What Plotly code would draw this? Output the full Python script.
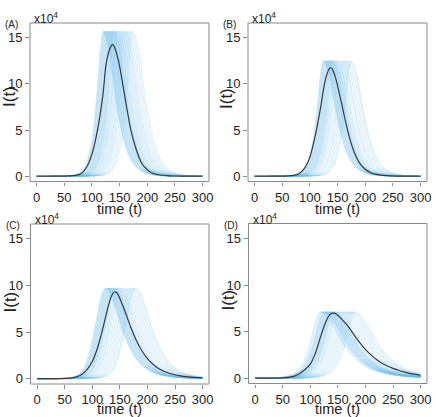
import plotly.graph_objects as go

W, H = 436, 417

# ---- data (I(t) in units of 1e4) ----
# peak days of the light blue sample runs
peaks_a = [120, 121, 122, 123, 124, 125, 126, 127, 128, 129, 130, 131, 132, 133, 134, 135, 136, 137, 138,
           139, 140, 141, 142, 144, 145, 147, 148, 150, 152, 154, 156, 158, 160, 162, 165, 168, 171, 174]
peaks_b = [124, 125, 126, 127, 128, 129, 130, 131, 132, 133, 134, 135, 136, 137, 138, 139, 140, 141, 142,
           143, 145, 146, 148, 150, 152, 155, 158, 160, 163, 166, 169, 172, 174]
peaks_c = [123, 124, 125, 126, 127, 128, 129, 130, 131, 132, 133, 134, 135, 136, 137, 138, 139, 140, 141,
           142, 144, 146, 148, 150, 152, 155, 158, 161, 164, 167, 170, 173, 176, 178]
peaks_d = [116, 118, 120, 122, 123, 124, 125, 126, 127, 128, 129, 130, 131, 132, 133, 134, 135, 136, 137,
           138, 139, 140, 141, 142, 144, 146, 148, 150, 153, 156, 159, 162, 165, 168, 171, 174, 177, 180]

# peak height of the sample runs
top_a, top_b, top_c, top_d = 15.7, 12.5, 9.7, 7.1

# shape of one sample run: days from its peak -> fraction of peak height
offsets = [-90, -80, -70, -60, -50, -40, -30, -20, -10, -5, 0, 5, 10, 20, 30, 40, 50, 60, 70, 80, 90, 100,
           120, 140, 160, 180, 200]
frac_a = [0, 0.001, 0.002, 0.004, 0.01, 0.03, 0.09, 0.25, 0.62, 0.87, 1.0, 0.96, 0.88, 0.6, 0.37, 0.21, 0.115,
          0.062, 0.034, 0.018, 0.01, 0.005, 0.0015, 0.0005, 0, 0, 0]
frac_b = [0, 0.001, 0.002, 0.005, 0.012, 0.035, 0.1, 0.27, 0.64, 0.88, 1.0, 0.965, 0.89, 0.63, 0.4, 0.23, 0.13,
          0.072, 0.04, 0.022, 0.012, 0.007, 0.002, 0.0006, 0, 0, 0]
frac_c = [0.002, 0.004, 0.008, 0.015, 0.04, 0.1, 0.25, 0.52, 0.83, 0.95, 1.0, 0.98, 0.93, 0.76, 0.56, 0.4, 0.28,
          0.19, 0.13, 0.09, 0.06, 0.042, 0.02, 0.01, 0.005, 0.0025, 0.001]
frac_d = [0.002, 0.007, 0.014, 0.028, 0.055, 0.11, 0.22, 0.43, 0.75, 0.9, 1.0, 0.99, 0.96, 0.86, 0.72, 0.57, 0.44,
          0.34, 0.26, 0.2, 0.15, 0.115, 0.068, 0.04, 0.024, 0.014, 0.008]

# black mean curves
t_ab = [0, 20, 40, 60, 70, 80, 90, 100, 110, 120, 125, 130, 135, 137, 140, 145, 150, 160, 170, 180, 190, 200,
        210, 220, 240, 260, 280, 300]
mean_a = [0, 0, 0.01, 0.03, 0.09, 0.27, 0.95, 2.4, 5.0, 8.9, 11.9, 13.4, 14.15, 14.25, 14.1, 13.2, 11.9, 8.45,
          5.1, 2.9, 1.4, 0.7, 0.32, 0.16, 0.05, 0.02, 0.01, 0]
mean_b = [0, 0, 0.01, 0.04, 0.1, 0.28, 0.85, 2.1, 4.5, 7.7, 9.6, 10.9, 11.65, 11.75, 11.65, 10.9, 9.8, 7.1,
          4.5, 2.6, 1.4, 0.75, 0.38, 0.2, 0.06, 0.02, 0.01, 0]
t_cd = [0, 20, 40, 50, 60, 70, 80, 90, 100, 110, 120, 130, 135, 140, 145, 150, 160, 170, 180, 190, 200, 210,
        220, 230, 240, 250, 260, 270, 280, 290, 300]
mean_c = [0, 0, 0.01, 0.02, 0.06, 0.17, 0.42, 0.95, 1.85, 3.4, 5.6, 8.0, 8.9, 9.3, 9.2, 8.6, 7.1, 5.5, 4.1,
          3.0, 2.15, 1.55, 1.1, 0.8, 0.58, 0.42, 0.31, 0.23, 0.17, 0.12, 0.09]
mean_d = [0, 0, 0.01, 0.03, 0.08, 0.2, 0.48, 0.9, 1.5, 2.8, 4.7, 6.3, 6.8, 6.98, 6.95, 6.75, 6.15, 5.45, 4.6,
          3.8, 3.1, 2.5, 2.0, 1.6, 1.3, 1.05, 0.85, 0.67, 0.52, 0.4, 0.3]

x_ticks = [0, 50, 100, 150, 200, 250, 300]
y_ticks = [0, 5, 10, 15]

# ---- layout in pixels: frame box (left, right, top, bottom); axis domain covers t=-12..300 ----
panels = [
    dict(lab='(A)', peaks=peaks_a, top=top_a, frac=frac_a, t=t_ab, mean=mean_a,
         frame=(30, 209, 23, 181.5), ylab=97, xlab=208.5),
    dict(lab='(B)', peaks=peaks_b, top=top_b, frac=frac_b, t=t_ab, mean=mean_b,
         frame=(248, 427, 23, 181.5), ylab=99, xlab=208.5),
    dict(lab='(C)', peaks=peaks_c, top=top_c, frac=frac_c, t=t_cd, mean=mean_c,
         frame=(30.5, 209, 224, 384), ylab=302, xlab=409),
    dict(lab='(D)', peaks=peaks_d, top=top_d, frac=frac_d, t=t_cd, mean=mean_d,
         frame=(248.5, 427, 223.5, 383.5), ylab=300, xlab=409),
]

BLUE = 'rgba(115,192,238,0.32)'
DARK = '#3a3a3a'
GRAY = '#8a8a8a'
TXT = '#222222'
FONT = 'Liberation Sans, Arial, sans-serif'

fig = go.Figure()
shapes = []
annotations = []

for i, p in enumerate(panels):
    n = '' if i == 0 else str(i + 1)
    xa, ya = 'x' + n, 'y' + n
    left, right, top, bottom = p['frame']
    x300 = right - 6.4  # t = 300 sits a few px inside the right frame edge

    for pk in p['peaks']:
        xs = [0] + [pk + o for o in offsets]
        ys = [0] + [p['top'] * f for f in p['frac']]
        fig.add_trace(go.Scatter(x=xs, y=ys, mode='lines', xaxis=xa, yaxis=ya,
                                 line=dict(color=BLUE, width=0.8, shape='spline', smoothing=0.8),
                                 hoverinfo='skip', showlegend=False))
    fig.add_trace(go.Scatter(x=p['t'], y=p['mean'], mode='lines', xaxis=xa, yaxis=ya,
                             line=dict(color=DARK, width=1.2, shape='spline', smoothing=0.8),
                             showlegend=False))

    fig.update_layout({
        'xaxis' + n: dict(domain=[left / W, x300 / W], range=[-12, 300], anchor=ya,
                          tickvals=x_ticks, ticks='outside', ticklen=3.5, tickcolor=GRAY,
                          ticklabelstandoff=0,
                          tickfont=dict(size=13, color=TXT, family=FONT),
                          showgrid=False, zeroline=False, showline=False, automargin=False),
        'yaxis' + n: dict(domain=[1 - bottom / H, 1 - top / H], range=[-0.57, 16.6], anchor=xa,
                          tickvals=y_ticks, ticks='outside', ticklen=4, tickcolor=GRAY,
                          tickfont=dict(size=13, color=TXT, family=FONT),
                          showgrid=False, zeroline=False, showline=False, automargin=False),
    })

    shapes.append(dict(type='rect', xref='paper', yref='paper',
                       x0=left / W, x1=right / W, y0=1 - bottom / H, y1=1 - top / H,
                       line=dict(color=GRAY, width=1)))

    annotations += [
        dict(text=p['lab'], x=(left - 27) / W, y=1 - (top + 1.5) / H, xanchor='left', yanchor='middle',
             font=dict(size=10, color=TXT, family=FONT)),
        dict(text='x10<sup>4</sup>', x=(left + 2) / W, y=1 - (top - 4.5) / H, xanchor='left', yanchor='middle',
             font=dict(size=12, color=TXT, family=FONT)),
        dict(text='time (t)', x=(left + right) / 2 / W, y=1 - p['xlab'] / H, xanchor='center',
             yanchor='middle', font=dict(size=14.5, color=TXT, family=FONT)),
        dict(text='I(t)', x=(left - 21) / W, y=1 - p['ylab'] / H, xanchor='center', yanchor='middle',
             textangle=-90, font=dict(size=17, color=TXT, family=FONT)),
    ]

for a in annotations:
    a.update(xref='paper', yref='paper', showarrow=False)

fig.update_layout(width=W, height=H, margin=dict(l=0, r=0, t=0, b=0),
                  paper_bgcolor='white', plot_bgcolor='white',
                  shapes=shapes, annotations=annotations, showlegend=False)

# page body has a default 8px margin; drop it so the figure sits at the window's corner
fig.write_html("out.html", config={'displayModeBar': False},
               post_script="document.body.style.margin='0';")
